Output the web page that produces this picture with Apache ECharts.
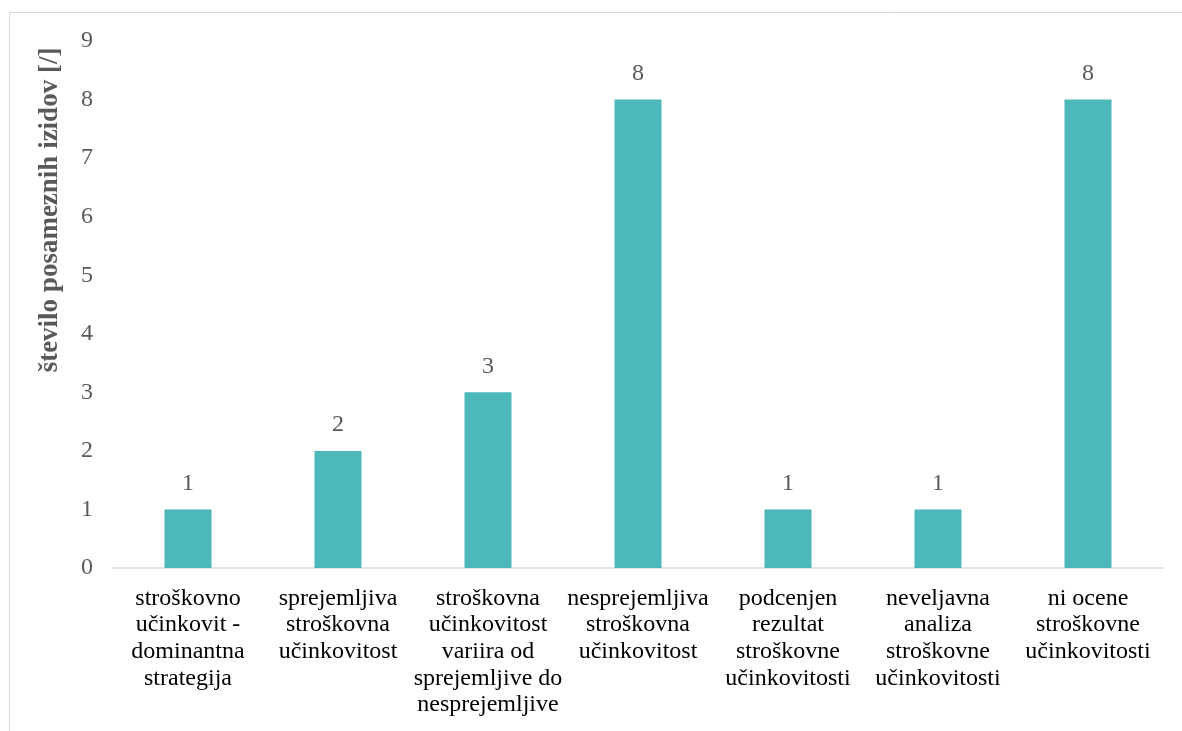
<!DOCTYPE html>
<html>
<head>
<meta charset="utf-8">
<script src="https://cdn.jsdelivr.net/npm/echarts@6/dist/echarts.min.js"></script>
<style>
html,body{margin:0;padding:0;background:#fff;}
#chart{width:1182px;height:731px;}
</style>
</head>
<body>
<div id="chart"></div>
<script>
const categories = [
  "stroškovno\nučinkovit -\ndominantna\nstrategija",
  "sprejemljiva\nstroškovna\nučinkovitost",
  "stroškovna\nučinkovitost\nvariira od\nsprejemljive do\nnesprejemljive",
  "nesprejemljiva\nstroškovna\nučinkovitost",
  "podcenjen\nrezultat\nstroškovne\nučinkovitosti",
  "neveljavna\nanaliza\nstroškovne\nučinkovitosti",
  "ni ocene\nstroškovne\nučinkovitosti"
];
const values = [1, 2, 3, 8, 1, 1, 8];
const yAxisTitle = "število posameznih izidov [/]";

const font = "'Liberation Serif', 'Times New Roman', serif";
const chart = echarts.init(document.getElementById('chart'), null, {renderer: 'canvas'});
chart.setOption({
  animation: false,
  graphic: [{
    type: 'rect',
    shape: {x: 9.5, y: 12.5, width: 1300, height: 800},
    style: {fill: 'none', stroke: '#d9d9d9', lineWidth: 1},
    z: -1
  }, {
    type: 'text',
    x: 50, y: 210,
    rotation: Math.PI / 2,
    style: {
      text: yAxisTitle,
      fill: '#595959',
      font: "bold 27px 'Liberation Serif', 'Times New Roman', serif",
      align: 'center',
      verticalAlign: 'middle'
    }
  }],
  grid: {left: 113, right: 19, top: 41, bottom: 163},
  xAxis: {
    type: 'category',
    data: categories,
    axisLine: {lineStyle: {color: '#d9d9d9', width: 1.5}},
    axisTick: {show: false},
    axisLabel: {
      interval: 0,
      color: '#000',
      fontFamily: font,
      fontSize: 24,
      lineHeight: 26.7,
      margin: 17
    }
  },
  yAxis: {
    type: 'value',
    min: 0, max: 9, interval: 1,
    axisLine: {show: false},
    axisTick: {show: false},
    splitLine: {show: false},
    axisLabel: {color: '#595959', fontFamily: font, fontSize: 24, margin: 20}
  },
  series: [{
    type: 'bar',
    data: values,
    barWidth: 47,
    itemStyle: {color: '#4db8ba'},
    label: {
      show: true,
      position: 'top',
      distance: 14,
      color: '#595959',
      fontFamily: font,
      fontSize: 24
    }
  }]
});
</script>
</body>
</html>
